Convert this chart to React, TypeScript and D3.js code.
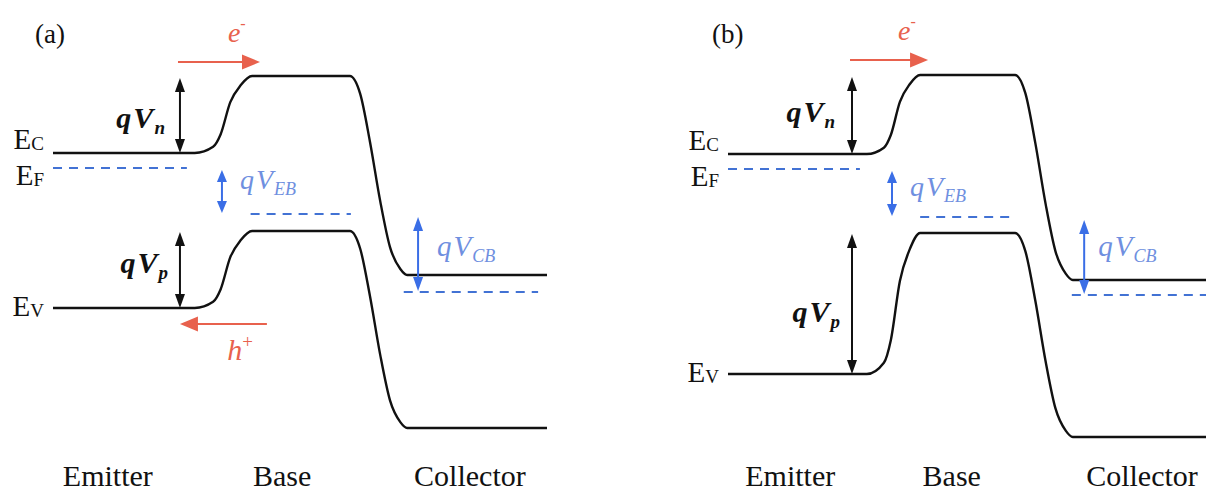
import React from 'react';
import * as d3 from 'd3';

// ---------- data ----------
const panelTitles = ['(a)', '(b)'];
const regionNames = ['Emitter', 'Base', 'Collector'];
const bandNames = ['C', 'F', 'V'];

// junction edges in device position (0..100): emitter end, base start, base end, collector start
const junctionsA = [28.7, 40.3, 60.1, 71.7];
const junctionsB = [28.1, 38.9, 58.1, 69.8];

// band energies (arb. units): [emitter, base, collector]
const ecA = [7.375, 9.3, 4.325];
const evA = [3.5, 5.425, 0.5];
const efA = [7.0, 5.85, 3.9];
const ecB = [7.35, 9.325, 4.2];
const evB = [1.85, 5.375, 0.275];
const efB = [6.975, 5.775, 3.825];

// Fermi-level dashed segments (device position start/end) per region
const efSegA = [[0, 27.1], [40.0, 60.3], [71.0, 98.2]];
const efSegB = [[0, 26.7], [38.9, 57.3], [69.6, 100]];

// normalised junction band-bending profiles
const riseT = [0, 0.32, 0.45, 0.62, 0.8, 1];
const riseS = [0, 0.08, 0.24, 0.66, 0.88, 1];
const fallT = [0, 0.18, 0.35, 0.53, 0.7, 0.88, 1];
const fallS = [0, 0.09, 0.33, 0.63, 0.86, 0.97, 1];

// region label positions (device units)
const regionPosA = [11.1, 46.4, 84.4];
const regionPosB = [12.6, 45.3, 83.8];

// carrier flow arrows (device units / energy)
const electronA = { x1: 25.3, x2: 41.9, e: 9.65, lx: 37.2, le: 10.15 };
const electronB = { x1: 24.7, x2: 40.5, e: 9.7, lx: 36.2, le: 10.2 };
const holeA = { x1: 43.3, x2: 25.7, e: 3.1, lx: 37.9, le: 2.2 };

// vertical annotation arrow positions (device units)
const arrowXA = { n: 25.7, p: 25.7, eb: 34.2, cb: 73.9 };
const arrowXB = { n: 25.1, p: 25.1, eb: 33.2, cb: 72.1 };

// ---------- layout ----------
const W = 1206;
const H = 498;
const yScale = d3.scaleLinear().domain([0, 10]).range([448, 48]);
const BLACK = '#111';
const RED = '#e8614d';
const BLUE_LINE = '#4272d4';
const BLUE_ARROW = '#3a6ee6';
const BLUE_TEXT = '#6f8fe0';
const SERIF = 'Liberation Serif';

type Panel = {
  title: string;
  x0: number;
  j: number[];
  ec: number[];
  ev: number[];
  ef: number[];
  efSeg: number[][];
  regionPos: number[];
  electron: any;
  hole: any | null;
  ax: any;
  titleX: number;
  labelDy: any;
};

const panels: Panel[] = [
  {
    title: panelTitles[0], x0: 53, j: junctionsA, ec: ecA, ev: evA, ef: efA, efSeg: efSegA,
    regionPos: regionPosA, electron: electronA, hole: holeA, ax: arrowXA, titleX: 35,
    labelDy: { n: [-15, 12], p: [-12, 3], eb: [18, -3], cb: [19, 2] },
  },
  {
    title: panelTitles[1], x0: 728, j: junctionsB, ec: ecB, ev: evB, ef: efB, efSeg: efSegB,
    regionPos: regionPosB, electron: electronB, hole: null, ax: arrowXB, titleX: 712,
    labelDy: { n: [-17, 6], p: [-12, 18], eb: [18, 2], cb: [14, -1] },
  },
];

function bandPoints(j: number[], e: number[]): [number, number][] {
  const pts: [number, number][] = [[0, e[0]]];
  riseT.forEach((t, i) => pts.push([j[0] + t * (j[1] - j[0]), e[0] + riseS[i] * (e[1] - e[0])]));
  fallT.forEach((t, i) => pts.push([j[2] + t * (j[3] - j[2]), e[1] + fallS[i] * (e[2] - e[1])]));
  pts.push([100, e[2]]);
  return pts;
}

function VArrow({ x, y1, y2, color, hw, hl, sw }: any) {
  const top = Math.min(y1, y2);
  const bot = Math.max(y1, y2);
  return (
    <g>
      <line x1={x} x2={x} y1={top + hl - 1} y2={bot - hl + 1} stroke={color} strokeWidth={sw} />
      <polygon points={`${x},${top} ${x - hw / 2},${top + hl} ${x + hw / 2},${top + hl}`} fill={color} />
      <polygon points={`${x},${bot} ${x - hw / 2},${bot - hl} ${x + hw / 2},${bot - hl}`} fill={color} />
    </g>
  );
}

function HArrow({ x1, x2, y, color }: any) {
  const dir = x2 > x1 ? 1 : -1;
  const hl = 18;
  const hw = 15;
  return (
    <g>
      <line x1={x1} x2={x2 - dir * (hl - 2)} y1={y} y2={y} stroke={color} strokeWidth={2} />
      <polygon points={`${x2},${y} ${x2 - dir * hl},${y - hw / 2} ${x2 - dir * hl},${y + hw / 2}`} fill={color} />
    </g>
  );
}

function QLabel({ x, y, sub, color, size, subSize, anchor, weight }: any) {
  return (
    <text x={x} y={y} style={{ fontFamily: `"${SERIF}"`, fontStyle: 'italic', fontSize: size, fontWeight: weight }} fill={color} textAnchor={anchor}>
      <tspan>q</tspan>
      <tspan dx={2}>V</tspan>
      <tspan style={{ fontSize: subSize }} dy={6} dx={1}>{sub}</tspan>
    </text>
  );
}

function PanelView({ p }: { p: Panel }) {
  const xs = d3.scaleLinear().domain([0, 100]).range([p.x0, p.x0 + 494]);
  const line = d3
    .line<[number, number]>()
    .x((d) => xs(d[0]))
    .y((d) => yScale(d[1]))
    .curve(d3.curveMonotoneX);
  const ecPath = line(bandPoints(p.j, p.ec)) || '';
  const evPath = line(bandPoints(p.j, p.ev)) || '';
  const ld = p.labelDy;

  const arrows = [
    { key: 'n', x: xs(p.ax.n), y1: yScale(p.ec[1]) + 2, y2: yScale(p.ec[0]), color: BLACK, text: BLACK, size: 30, sub: 19, anchor: 'end', hw: 10, hl: 14, w: 700 },
    { key: 'p', x: xs(p.ax.p), y1: yScale(p.ev[1]) + 1, y2: yScale(p.ev[0]), color: BLACK, text: BLACK, size: 30, sub: 19, anchor: 'end', hw: 10, hl: 14, w: 700 },
    { key: 'eb', x: xs(p.ax.eb), y1: yScale(p.ef[0]) + 2, y2: yScale(p.ef[1]) - 1, color: BLUE_ARROW, text: BLUE_TEXT, size: 28, sub: 18, anchor: 'start', hw: 10, hl: 12, w: 400 },
    { key: 'cb', x: xs(p.ax.cb), y1: yScale(p.ef[1]) + 3, y2: yScale(p.ef[2]) - 1, color: BLUE_ARROW, text: BLUE_TEXT, size: 29, sub: 18, anchor: 'start', hw: 10, hl: 14, w: 400 },
  ];
  const subs: any = { n: 'n', p: 'p', eb: 'EB', cb: 'CB' };
  const labelY = [yScale(p.ec[0]) - 4, yScale(p.ef[0]) + 17, yScale(p.ev[0]) + 8];

  return (
    <g>
      <text x={p.titleX} y={43} style={{ fontFamily: `"${SERIF}"`, fontSize: 27 }} fill={BLACK}>{p.title}</text>

      {/* Fermi level dashes */}
      {p.efSeg.map((s, i) => (
        <line key={'ef' + i} x1={xs(s[0])} x2={xs(s[1])} y1={yScale(p.ef[i])} y2={yScale(p.ef[i])}
          stroke={BLUE_LINE} strokeWidth={1.8} strokeDasharray="9,7" />
      ))}

      {/* bands */}
      <path d={ecPath} fill="none" stroke={BLACK} strokeWidth={2.4} />
      <path d={evPath} fill="none" stroke={BLACK} strokeWidth={2.4} />

      {/* band labels */}
      {bandNames.map((b, i) => (
        <text key={b} x={p.x0 - 9} y={labelY[i]} style={{ fontFamily: `"${SERIF}"`, fontSize: 29 }} fill={BLACK} textAnchor="end">
          E<tspan style={{ fontSize: 19 }} dy={1}>{b}</tspan>
        </text>
      ))}

      {/* vertical arrows */}
      {arrows.map((a) => (
        <g key={a.key}>
          <VArrow x={a.x} y1={a.y1} y2={a.y2} color={a.color} hw={a.hw} hl={a.hl} sw={2} />
          <QLabel x={a.x + ld[a.key][0]} y={(a.y1 + a.y2) / 2 + ld[a.key][1]} sub={subs[a.key]}
            color={a.text} size={a.size} subSize={a.sub} anchor={a.anchor} weight={a.w} />
        </g>
      ))}

      {/* electron flow */}
      <HArrow x1={xs(p.electron.x1)} x2={xs(p.electron.x2)} y={yScale(p.electron.e)} color={RED} />
      <text x={xs(p.electron.lx)} y={yScale(p.electron.le)} style={{ fontFamily: `"${SERIF}"`, fontStyle: 'italic', fontSize: 28 }} fill={RED} textAnchor="middle">
        e<tspan style={{ fontSize: 16 }} dy={-13}>-</tspan>
      </text>

      {/* hole flow */}
      {p.hole && (
        <g>
          <HArrow x1={xs(p.hole.x1)} x2={xs(p.hole.x2)} y={yScale(p.hole.e)} color={RED} />
          <text x={xs(p.hole.lx)} y={yScale(p.hole.le)} style={{ fontFamily: `"${SERIF}"`, fontStyle: 'italic', fontSize: 30 }} fill={RED} textAnchor="middle">
            h<tspan style={{ fontSize: 19, fontStyle: 'normal' }} dy={-12}>+</tspan>
          </text>
        </g>
      )}

      {/* region names */}
      {regionNames.map((r, i) => (
        <text key={r} x={xs(p.regionPos[i])} y={486} style={{ fontFamily: `"${SERIF}"`, fontSize: 30 }} fill={BLACK} textAnchor="middle">{r}</text>
      ))}
    </g>
  );
}

export default function App() {
  return (
    <svg width={W} height={H} style={{ position: 'absolute', left: 0, top: 0, fontFamily: `"${SERIF}", serif` }}>
      <style>{`text, tspan { font-family: "Liberation Serif", serif; }`}</style>
      <rect x={0} y={0} width={W} height={H} fill="#fff" />
      {panels.map((p) => (
        <PanelView key={p.title} p={p} />
      ))}
    </svg>
  );
}
